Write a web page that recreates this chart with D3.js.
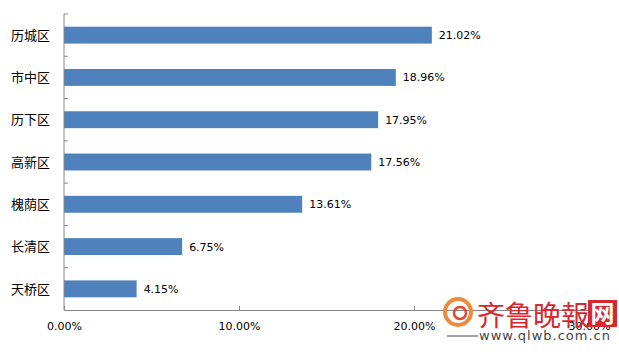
<!DOCTYPE html>
<html>
<head>
<meta charset="utf-8">
<script src="https://cdn.jsdelivr.net/npm/d3@7"></script>
<style>
  body { margin: 0; background: #fff; }
  svg { display: block; }
</style>
</head>
<body>
<svg></svg>
<script>
const districts = ['历城区', '市中区', '历下区', '高新区', '槐荫区', '长清区', '天桥区'];
const shares = [21.02, 18.96, 17.95, 17.56, 13.61, 6.75, 4.15];
const xTicks = [0, 10, 20, 30];

const svgWidth = 619;
const svgHeight = 355;
const margin = { top: 14, right: 30, bottom: 45, left: 64 };
const width = svgWidth - margin.left - margin.right;
const height = svgHeight - margin.top - margin.bottom;

const cjk = '"Noto Sans CJK SC", sans-serif';
const latin = '"DejaVu Sans", "Liberation Sans", sans-serif';

const svg = d3.select('svg')
    .attr('width', svgWidth)
    .attr('height', svgHeight)
    .append('g')
    .attr('transform', `translate(${margin.left}, ${margin.top})`);

const xScale = d3.scaleLinear()
    .domain([0, 30])
    .range([0, width]);

const yScale = d3.scaleBand()
    .domain(districts)
    .range([0, height])
    .paddingInner(0.6)
    .paddingOuter(0.3);

const step = yScale.step();

svg.selectAll('.bar')
    .data(districts)
    .enter().append('rect')
    .attr('class', 'bar')
    .attr('x', 0)
    .attr('y', d => yScale(d))
    .attr('width', (d, i) => xScale(shares[i]))
    .attr('height', yScale.bandwidth())
    .attr('fill', '#4f81bd');

svg.selectAll('.val')
    .data(districts)
    .enter().append('text')
    .attr('class', 'val')
    .attr('x', (d, i) => xScale(shares[i]) + 7)
    .attr('y', d => yScale(d) + yScale.bandwidth() / 2)
    .attr('dy', '0.36em')
    .attr('font-family', latin)
    .attr('font-size', '11px')
    .attr('fill', '#000')
    .text((d, i) => shares[i].toFixed(2) + '%');

// x axis
const xAxis = svg.append('g')
    .attr('transform', `translate(0, ${height})`)
    .call(d3.axisBottom(xScale).tickValues(xTicks).tickSize(-4).tickPadding(12)
        .tickFormat(d => d.toFixed(2) + '%'));
xAxis.select('.domain').attr('stroke', '#868686');
xAxis.selectAll('.tick line').attr('stroke', '#868686');
xAxis.selectAll('text')
    .attr('font-family', latin)
    .attr('font-size', '11px')
    .attr('fill', '#000');

// y axis with tick marks between categories
const yAxis = svg.append('g');
yAxis.append('line')
    .attr('x1', 0).attr('x2', 0)
    .attr('y1', 0).attr('y2', height)
    .attr('stroke', '#868686');
yAxis.selectAll('.sep')
    .data(districts)
    .enter().append('line')
    .attr('class', 'sep')
    .attr('x1', 0).attr('x2', 4)
    .attr('y1', d => yScale(d) - step * 0.3)
    .attr('y2', d => yScale(d) - step * 0.3)
    .attr('stroke', '#868686');
yAxis.selectAll('.cat')
    .data(districts)
    .enter().append('text')
    .attr('class', 'cat')
    .attr('x', -14)
    .attr('y', d => yScale(d) + yScale.bandwidth() / 2)
    .attr('dy', '0.36em')
    .attr('text-anchor', 'end')
    .attr('font-family', cjk)
    .attr('font-size', '13px')
    .attr('fill', '#000')
    .text(d => d);

// watermark
const wm = d3.select('svg').append('g');
wm.append('circle')
    .attr('cx', 458).attr('cy', 312).attr('r', 13)
    .attr('fill', 'none').attr('stroke', '#f08a3c').attr('stroke-width', 4);
wm.append('circle')
    .attr('cx', 460).attr('cy', 313).attr('r', 6)
    .attr('fill', 'none').attr('stroke', '#e8452c').attr('stroke-width', 2.5);
wm.append('text')
    .attr('x', 477).attr('y', 326)
    .attr('font-family', cjk)
    .attr('font-size', '28px')
    .attr('fill', '#d7282f')
    .text('齐鲁晚報');
wm.append('rect')
    .attr('x', 588).attr('y', 300).attr('width', 29).attr('height', 27)
    .attr('fill', '#d7282f');
wm.append('text')
    .attr('x', 602.5).attr('y', 322)
    .attr('text-anchor', 'middle')
    .attr('font-family', cjk)
    .attr('font-size', '24px')
    .attr('font-weight', 'bold')
    .attr('fill', '#fff')
    .text('网');
wm.append('line')
    .attr('x1', 447).attr('x2', 478)
    .attr('y1', 336).attr('y2', 336)
    .attr('stroke', '#444');
wm.append('text')
    .attr('x', 479).attr('y', 340)
    .attr('font-family', latin)
    .attr('font-size', '13px')
    .attr('letter-spacing', '1px')
    .attr('fill', '#444')
    .text('www.qlwb.com.cn');
</script>
</body>
</html>
